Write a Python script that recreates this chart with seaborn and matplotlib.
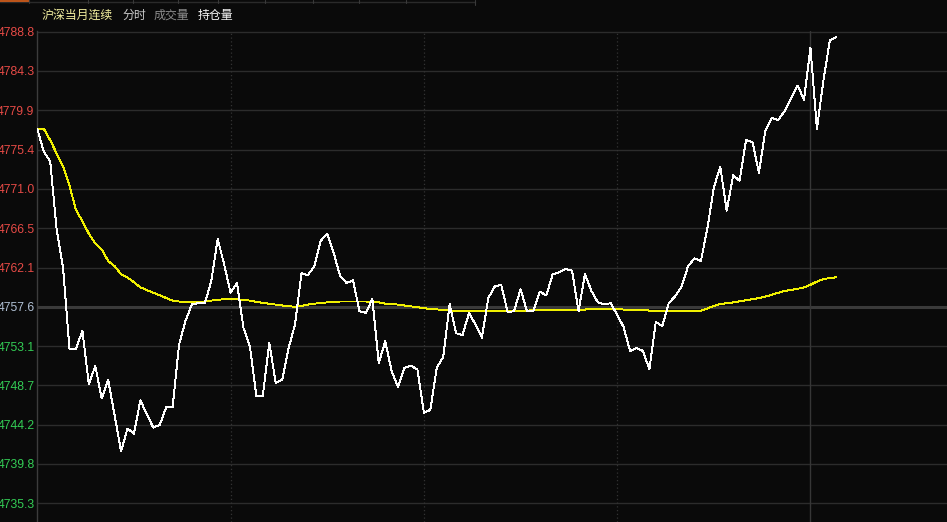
##### 沪深当月连续 分时図の再現

import numpy as np
import pandas as pd
import matplotlib
matplotlib.use('Agg')
import matplotlib.pyplot as plt
from matplotlib.lines import Line2D
import seaborn as sns

##### データ(1分足, 9:30 からの経過分)
price = [
    4777.8, 4775.2, 4774.1, 4766.4, 4762.0, 4752.8, 4752.8, 4754.9, 4748.8, 4750.9,
    4747.2, 4749.3, 4745.3, 4741.2, 4743.8, 4743.2, 4747.0, 4745.4, 4743.9, 4744.2,
    4746.2, 4746.2, 4753.3, 4756.0, 4757.9, 4758.0, 4758.0, 4760.5, 4765.3, 4762.4,
    4759.2, 4760.3, 4755.2, 4753.1, 4747.5, 4747.5, 4753.5, 4749.0, 4749.3, 4752.9,
    4755.6, 4761.4, 4761.2, 4762.2, 4765.1, 4765.9, 4763.7, 4761.1, 4760.3, 4760.6,
    4757.1, 4756.9, 4758.5, 4751.2, 4753.7, 4750.3, 4748.5, 4750.7, 4750.9, 4750.5,
    4745.6, 4745.9, 4750.7, 4751.9, 4757.9, 4754.6, 4754.4, 4756.9, 4755.6, 4754.1,
    4758.6, 4759.9, 4760.1, 4757.0, 4757.1, 4759.6, 4757.1, 4757.1, 4759.3, 4758.9,
    4761.3, 4761.5, 4761.9, 4761.7, 4757.1, 4761.3, 4759.4, 4758.1, 4757.9, 4758.0,
    4756.7, 4755.3, 4752.6, 4752.9, 4752.6, 4750.5, 4755.9, 4755.4, 4758.0, 4758.8,
    4759.9, 4762.2, 4763.1, 4762.8, 4766.5, 4771.1, 4773.5, 4768.5, 4772.5, 4771.9,
    4776.5, 4776.3, 4772.8, 4777.6, 4779.0, 4778.8, 4779.8, 4781.3, 4782.7, 4781.1,
    4787.0, 4777.8, 4783.2, 4787.8, 4788.2,
]
avg_price = [
    4777.8, 4777.8, 4776.5, 4775.0, 4773.5, 4771.3, 4768.6, 4767.3, 4765.9, 4764.8,
    4764.1, 4762.8, 4762.2, 4761.3, 4760.9, 4760.4, 4759.8, 4759.5, 4759.2, 4758.9,
    4758.6, 4758.3, 4758.2, 4758.15, 4758.15, 4758.15, 4758.2, 4758.3, 4758.4, 4758.45,
    4758.45, 4758.45, 4758.4, 4758.3, 4758.15, 4758.05, 4757.95, 4757.85, 4757.75, 4757.65,
    4757.62, 4757.7, 4757.85, 4757.95, 4758.05, 4758.1, 4758.15, 4758.2, 4758.2, 4758.2,
    4758.2, 4758.2, 4758.15, 4758.1, 4757.95, 4757.9, 4757.85, 4757.75, 4757.65, 4757.55,
    4757.45, 4757.35, 4757.3, 4757.25, 4757.17, 4757.17, 4757.17, 4757.17, 4757.17, 4757.17,
    4757.17, 4757.17, 4757.17, 4757.1, 4757.1, 4757.1, 4757.1, 4757.28, 4757.28, 4757.28,
    4757.28, 4757.28, 4757.28, 4757.28, 4757.28, 4757.28, 4757.4, 4757.4, 4757.4, 4757.4,
    4757.4, 4757.28, 4757.28, 4757.28, 4757.28, 4757.17, 4757.17, 4757.17, 4757.17, 4757.17,
    4757.17, 4757.17, 4757.17, 4757.17, 4757.4, 4757.7, 4757.92, 4758.0, 4758.1, 4758.22,
    4758.34, 4758.46, 4758.59, 4758.77, 4758.96, 4759.19, 4759.39, 4759.52, 4759.64, 4759.79,
    4760.1, 4760.46, 4760.75, 4760.85, 4760.95,
]
minutes = np.arange(len(price))

prev_close = 4757.6          # 昨結算(中心線)
tick_step = 31.2 / 7         # 目盛り間隔
n_up, n_down = 7, 5
header_texts = ['沪深当月连续', '分时', '成交量', '持仓量']
session_lines = [30, 60, 90]  # 点線(30分ごと)
break_line = 120              # 昼休み(実線)

df = pd.DataFrame({'minute': minutes, 'price': price, 'avg': avg_price})

##### スタイル
sns.set_theme(style='dark', rc={
    'figure.facecolor': '#0a0a0a',
    'axes.facecolor': '#0a0a0a',
})
plt.rcParams['font.family'] = ['Liberation Sans', 'DejaVu Sans']

W, H = 947, 522
fig = plt.figure(figsize=(W / 100, H / 100), dpi=100)
left_px, top_px = 37.3, 31.0
ax = fig.add_axes([left_px / W, 0, 1 - left_px / W, 1 - top_px / H])

px_per_unit = 39.3 / tick_step
y_top = prev_close + n_up * tick_step + (31.7 - top_px) / px_per_unit
y_bot = y_top - (H - top_px) / px_per_unit
ax.set_ylim(y_bot, y_top)
ax.set_xlim(0, (W - left_px) / 6.443)

##### グリッド
ticks = [prev_close + k * tick_step for k in range(-n_down, n_up + 1)]
for t in ticks:
    if abs(t - prev_close) < 1e-6:
        ax.axhline(t, color='#3a3a3a', lw=2.2, zorder=1)
    else:
        ax.axhline(t, color='#2c2c2c', lw=1.0, zorder=1)
for m in session_lines:
    ax.axvline(m, color='#333333', lw=0.9, ls=(0, (1, 2)), zorder=1)
ax.axvline(break_line, color='#363636', lw=1.0, zorder=1)

##### ライン
sns.lineplot(data=df, x='minute', y='avg', ax=ax, color='#f0f000', lw=0.68,
             antialiased=False, zorder=3)
sns.lineplot(data=df, x='minute', y='price', ax=ax, color='white', lw=0.68,
             antialiased=False, zorder=4)

##### 軸
for s in ['top', 'right', 'bottom']:
    ax.spines[s].set_visible(False)
ax.spines['left'].set_color('#3c3c3c')
ax.spines['left'].set_linewidth(1.0)
ax.set_xticks([])
ax.set_yticks(ticks)
ax.set_yticklabels([f'{t:.1f}' for t in ticks])
ax.tick_params(axis='y', length=0, pad=2, labelsize=8.8)
for t, lab in zip(ticks, ax.get_yticklabels()):
    if t > prev_close + 1e-6:
        lab.set_color('#e64a46')
    elif t < prev_close - 1e-6:
        lab.set_color('#33cc55')
    else:
        lab.set_color('#b0c0d4')
ax.set_xlabel('')
ax.set_ylabel('')
ax.grid(False)

##### ヘッダー
cjk = ['Noto Sans CJK SC', 'DejaVu Sans']
header_x = [42, 122, 154, 198]
header_colors = ['#f4f0a0', '#c8c8c8', '#8c8c8c', '#f4f4f4']
for txt, x, c in zip(header_texts, header_x, header_colors):
    fig.text(x / W, 1 - 15.5 / H, txt, color=c, fontsize=8.6, family=cjk,
             ha='left', va='center')

##### 上部のタブ線
fig.add_artist(Line2D([0, 475 / W], [1 - 1.5 / H] * 2, color='#2a2a2a', lw=1.0))
fig.add_artist(Line2D([0, 29 / W], [1 - 1.0 / H] * 2, color='#e0641e', lw=1.2))
for x in [29, 88, 133, 178, 218, 265, 313, 359, 406]:
    fig.add_artist(Line2D([x / W] * 2, [1, 1 - 2.5 / H], color='#3a3a3a', lw=0.8))
fig.add_artist(Line2D([475 / W] * 2, [1, 1 - 5 / H], color='#3a3a3a', lw=0.8))

fig.savefig('out.png', dpi=100, facecolor=fig.get_facecolor())
